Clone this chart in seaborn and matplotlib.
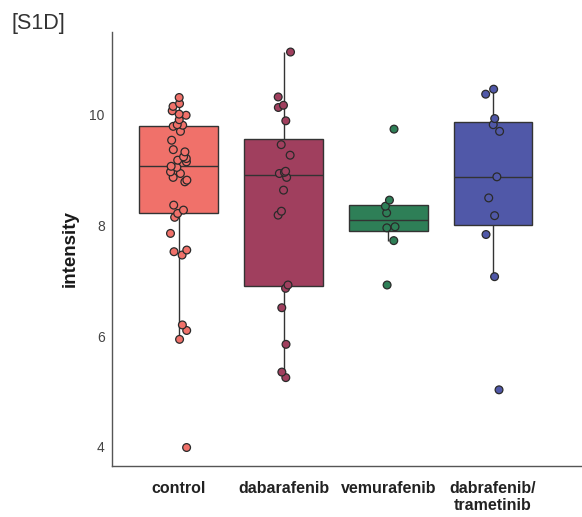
import pandas as pd
import numpy as np
import seaborn as sns
import matplotlib.pyplot as plt

# values
control = [3.99, 5.94, 6.10, 6.20, 7.46, 7.52, 7.55, 7.85, 8.14, 8.21, 8.27, 8.36,
           8.78, 8.81, 8.86, 8.93, 8.96, 9.04, 9.06, 9.14, 9.17, 9.20, 9.23, 9.32,
           9.36, 9.53, 9.69, 9.78, 9.80, 9.81, 9.90, 9.98, 10.00, 10.06, 10.14,
           10.19, 10.30]
dabarafenib = [5.25, 5.35, 5.85, 6.51, 6.86, 6.92, 8.18, 8.25, 8.63, 8.86, 8.93,
               8.95, 8.97, 9.26, 9.45, 9.88, 10.12, 10.16, 10.31, 11.12]
vemurafenib = [6.92, 7.72, 7.95, 7.97, 8.22, 8.34, 8.45, 9.73]
dab_tram = [5.03, 7.07, 7.83, 8.17, 8.49, 8.87, 9.69, 9.81, 9.92, 10.36, 10.45]

groups = ['control', 'dabarafenib', 'vemurafenib', 'dabrafenib/\ntrametinib']
colors = ['#F0716A', '#A03F5E', '#2E7F57', '#5058A8']

df = pd.DataFrame({
    'group': [groups[0]] * len(control) + [groups[1]] * len(dabarafenib)
             + [groups[2]] * len(vemurafenib) + [groups[3]] * len(dab_tram),
    'intensity': control + dabarafenib + vemurafenib + dab_tram,
})

sns.set_style('white')
plt.rcParams['font.family'] = ['Liberation Sans', 'DejaVu Sans']

fig = plt.figure(figsize=(5.82, 5.17), dpi=100)
ax = fig.add_axes([0.192, 0.099, 0.808, 0.839])

sns.boxplot(df, x='group', y='intensity', hue='group', palette=colors,
            order=groups, saturation=1, width=0.75, showfliers=False,
            showcaps=False, linecolor='#333333', linewidth=1, legend=False, ax=ax)

np.random.seed(4)
sns.stripplot(df, x='group', y='intensity', hue='group', palette=colors,
              order=groups, jitter=0.08, size=5.6, linewidth=0.9,
              edgecolor='#2a2a2a', legend=False, ax=ax)

ax.set_xlim(-0.64, 3.85)
ax.set_ylim(3.66, 11.48)
ax.set_yticks([4, 6, 8, 10])
ax.set_xlabel('')
ax.set_ylabel('intensity', fontsize=13.5, fontweight='bold', color='#1a1a1a', labelpad=8)

for s in ['top', 'right']:
    ax.spines[s].set_visible(False)
for s in ['left', 'bottom']:
    ax.spines[s].set_color('#555555')
    ax.spines[s].set_linewidth(1)

ax.tick_params(axis='y', length=3, color='#555555', labelsize=10, labelcolor='#444444', pad=2)
ax.tick_params(axis='x', length=3, color='#555555', labelsize=11.5, labelcolor='#222222', pad=8)
for t in ax.get_xticklabels():
    t.set_fontweight('bold')

fig.text(0.02, 0.975, '[S1D]', fontsize=15.5, color='#333333', va='top', ha='left')

fig.savefig('out.png', dpi=100)
